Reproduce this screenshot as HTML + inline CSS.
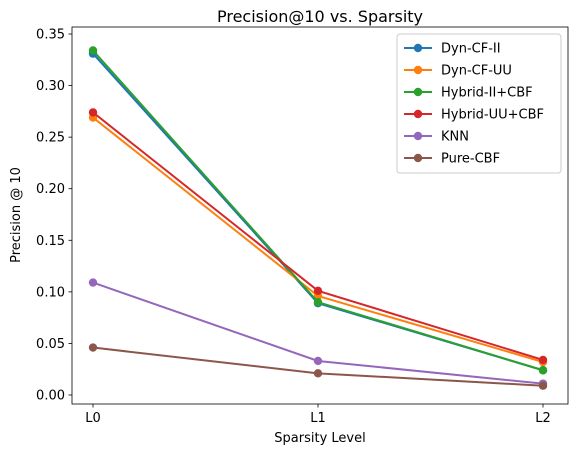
<!DOCTYPE html>
<html><head><meta charset="utf-8"><style>
body{margin:0;background:#fff;font-family:"Liberation Sans","DejaVu Sans",sans-serif;}
svg text{font-family:"DejaVu Sans","Liberation Sans",sans-serif;}
</style></head><body>
<svg id="chart" width="576" height="455"></svg>
<script>
const categories=["L0","L1","L2"];
const seriesNames=["Dyn-CF-II","Dyn-CF-UU","Hybrid-II+CBF","Hybrid-UU+CBF","KNN","Pure-CBF"];
const dynCFII=[0.331,0.089,0.024];
const dynCFUU=[0.269,0.096,0.032];
const hybridII=[0.334,0.090,0.024];
const hybridUU=[0.274,0.101,0.034];
const knn=[0.109,0.033,0.011];
const pureCBF=[0.046,0.021,0.009];
const yTicks=[0.00,0.05,0.10,0.15,0.20,0.25,0.30,0.35];
const seriesValues=[dynCFII,dynCFUU,hybridII,hybridUU,knn,pureCBF];
const colors=["#1f77b4","#ff7f0e","#2ca02c","#d62728","#9467bd","#8c564b"];
const NS="http://www.w3.org/2000/svg";
const svg=document.getElementById("chart");
const L=72,R=568,T=27,B=404;
function x(i){return 93+i*(543-93)/(categories.length-1);}
function y(v){return 395-v*(395-34)/0.35;}
function mk(t,a,p){const e=document.createElementNS(NS,t);for(const k in a)e.setAttribute(k,a[k]);(p||svg).appendChild(e);return e;}
let e;
e=mk("rect",{x:L,y:T,width:R-L,height:B-T,fill:"none",stroke:"#000","stroke-width":0.8});


yTicks.forEach(v=>{
 mk("line",{x1:L-3.5,x2:L,y1:y(v),y2:y(v),stroke:"#000","stroke-width":0.8});
 e=mk("text",{x:L-7,y:y(v)+4.5,"text-anchor":"end","font-size":"13px"});e.textContent=v.toFixed(2);
 
 
});
categories.forEach((c,i)=>{
 mk("line",{x1:x(i),x2:x(i),y1:B,y2:B+3.5,stroke:"#000","stroke-width":0.8});
 e=mk("text",{x:x(i),y:B+18,"text-anchor":"middle","font-size":"13px"});e.textContent=c;
 
 
});
e=mk("text",{x:320,y:442,"text-anchor":"middle","font-size":"13px"});e.textContent="Sparsity Level";


e=mk("text",{x:20,y:215,"text-anchor":"middle","font-size":"13px",transform:"rotate(-90 20 215)"});e.textContent="Precision @ 10";


e=mk("text",{x:320,y:22,"text-anchor":"middle","font-size":"16px"});e.textContent="Precision@10 vs. Sparsity";


seriesValues.forEach((vals,s)=>{
 const g=mk("g",{});
 
 
 mk("polyline",{points:vals.map((v,i)=>x(i)+","+y(v)).join(" "),fill:"none",stroke:colors[s],"stroke-width":2},g);
 vals.forEach((v,i)=>{const c=mk("circle",{cx:x(i),cy:y(v),r:4.2,fill:colors[s]},g);
  
  });
});
const lg=mk("g",{});


mk("rect",{x:397,y:34,width:164,height:139,rx:3,fill:"#fff",stroke:"#ccc","fill-opacity":0.8},lg);
seriesNames.forEach((n,s)=>{
 const yy=48+s*22;
 const g=mk("g",{},lg);
 
 
 mk("line",{x1:404,x2:432,y1:yy,y2:yy,stroke:colors[s],"stroke-width":2},g);
 mk("circle",{cx:418,cy:yy,r:4.2,fill:colors[s]},g);
 const t=mk("text",{x:441,y:yy+4.5,"font-size":"13px"},g);t.textContent=n;
});
</script>
</body></html>
